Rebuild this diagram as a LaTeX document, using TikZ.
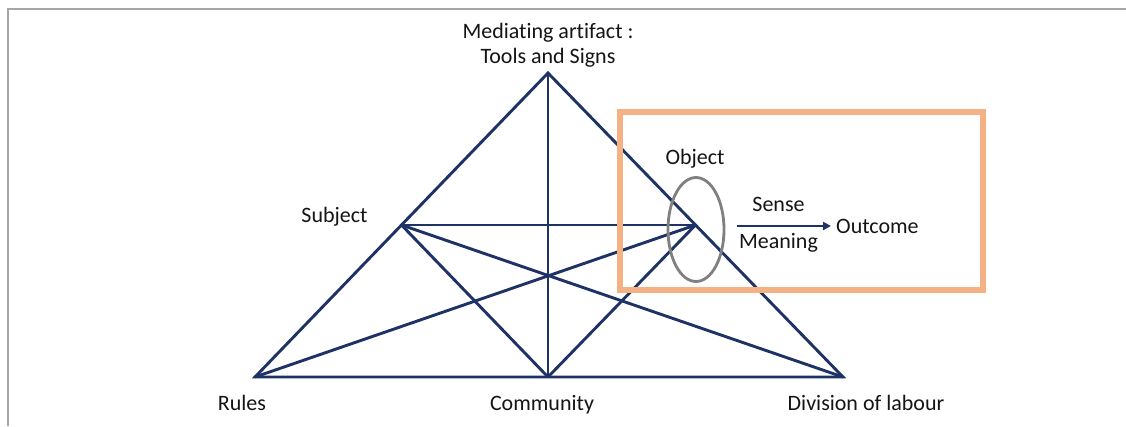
\documentclass[tikz,border=0pt]{standalone}
\usepackage{fontspec}
\setmainfont[Ligatures={NoCommon}]{Carlito}
\usetikzlibrary{arrows.meta}
\definecolor{navy}{HTML}{1F3266}
\definecolor{frameorange}{HTML}{F4B183}
\definecolor{pagegray}{HTML}{A6A6A6}
\definecolor{ellgray}{HTML}{808080}
\definecolor{txt}{HTML}{151515}
\tikzset{
  edge/.style={draw=navy, line width=2.9pt, line join=miter},
  lbl/.style={font=\fontsize{22}{26}\selectfont, text=txt, anchor=base, inner sep=0pt},
  pt/.style={coordinate}
}
\begin{document}
\begin{tikzpicture}[x=1pt,y=-1pt]
\useasboundingbox (0,0) rectangle (1126,426);
\fill[white] (0,0) rectangle (1126,426);
% page edge
\draw[pagegray, line width=2pt] (8,426) -- (8,9) -- (1126,9);
% points
\node[pt] (A) at (548,73) {};
\node[pt] (R) at (255,377) {};
\node[pt] (C) at (548,377) {};
\node[pt] (D) at (843,377) {};
\node[pt] (S) at (401.5,225) {};
\node[pt] (O) at (695.5,225) {};
% triangle and inner lines
\draw[edge] (A) -- (R) -- (D) -- cycle;
\draw[edge] (A) -- (C);
\draw[edge] (S) -- (O);
\draw[edge] (S) -- (C);
\draw[edge] (O) -- (C);
\draw[edge] (S) -- (D);
\draw[edge] (O) -- (R);
% ellipse
\draw[ellgray, line width=2.8pt] (696,229.5) ellipse [x radius=28, y radius=52];
% orange frame
\draw[frameorange, line width=6pt] (620,112) rectangle (983,290);
% labels
\node[lbl] (med) at (548,38) {Mediating artifact :};
\node[lbl] (tools) at (548,63) {Tools and Signs};
\node[lbl] (subj) at (334.5,222) {Subject};
\node[lbl] (obj) at (695,164) {Object};
\node[lbl] (sense) at (778.5,211) {Sense};
\node[lbl] (mean) at (778.5,248) {Meaning};
\node[lbl] (rules) at (242,410) {Rules};
\node[lbl] (comm) at (542,410) {Community};
\node[lbl] (div) at (866,410) {Division of labour};
\node[lbl, anchor=base west] (out) at (836,233) {Outcome};
\coordinate (arrs) at (737,226);
\coordinate (arre) at (831,226);
\draw[navy, line width=2.9pt, -{Triangle[length=8pt,width=8pt]}] (arrs) -- (arre);
\end{tikzpicture}
\end{document}
